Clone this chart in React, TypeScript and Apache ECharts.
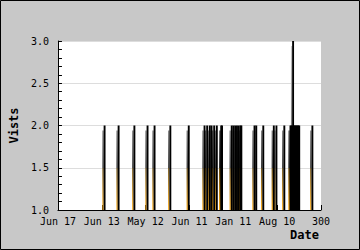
import React, { useEffect, useRef } from 'react';
import * as echarts from 'echarts';

const tickLabels = ['Jun 17', 'Jun 13', 'May 12', 'Jun 11', 'Jan 11', 'Aug 10', '300'];
const spikeIndex = [53, 69, 87, 102, 110, 128, 149, 167, 170, 173, 175, 178, 181, 186, 187, 198, 200, 202, 204, 206, 208, 209, 224, 226, 234, 246, 249, 258, 265, 266, 267, 268, 269, 270, 271, 272, 273, 274, 275, 290];
const spikeVisits = [2, 2, 2, 2, 2, 2, 2, 2, 2, 2, 2, 2, 2, 2, 2, 2, 2, 2, 2, 2, 2, 2, 2, 2, 2, 2, 2, 2, 2, 2, 2, 3, 2, 2, 2, 2, 2, 2, 2, 2];

export default function App() {
  const ref = useRef<HTMLDivElement>(null);
  useEffect(() => {
    document.body.style.margin = '0';
    const chart = echarts.init(ref.current!, null, { renderer: 'svg' });
    const mono = 'DejaVu Sans Mono';
    const stops = [
      { offset: 0, color: '#cccccc' },
      { offset: 0.5, color: '#7a7a7a' },
      { offset: 0.75, color: '#222222' },
      { offset: 0.75, color: '#5e3f00' },
      { offset: 1, color: '#ffa500' },
    ];
    const data = spikeIndex.map((x, i) => [x, spikeVisits[i]]);
    const renderFill = (params: any, api: any) => {
      const x = api.value(0);
      const v = api.value(1);
      const top = api.coord([x, v]);
      const base = api.coord([x, 1]);
      const yTop = api.coord([0, 3])[1];
      const grad = new echarts.graphic.LinearGradient(0, yTop, 0, base[1], stops, true);
      return {
        type: 'rect',
        shape: { x: top[0] - 2.0, y: top[1] + 5, width: 1.2, height: base[1] - top[1] - 5 },
        style: { fill: grad },
      };
    };
    const renderLine = (params: any, api: any) => {
      const x = api.value(0);
      const v = api.value(1);
      const top = api.coord([x, v]);
      const base = api.coord([x, 1]);
      return {
        type: 'rect',
        shape: { x: top[0] - 0.8, y: top[1], width: 1.9, height: base[1] - top[1] },
        style: { fill: '#000' },
      };
    };
    chart.setOption({
      animation: false,
      backgroundColor: '#c8c8c8',
      grid: { left: 41, top: 41, right: 39, bottom: 40, show: true, backgroundColor: '#ffffff', borderWidth: 0 },
      xAxis: {
        type: 'value',
        min: 0,
        max: 300,
        interval: 50,
        axisLine: { lineStyle: { color: '#000', width: 1 } },
        axisTick: { inside: true, length: 5, lineStyle: { color: '#000' } },
        axisLabel: {
          margin: 6,
          fontFamily: mono,
          fontSize: 10,
          color: '#000',
          formatter: (v: number) => tickLabels[Math.round(v / 50)],
        },
        splitLine: { show: false },
        name: 'Date',
        nameLocation: 'end',
        nameGap: 0,
        nameTextStyle: {
          fontFamily: mono,
          fontSize: 12,
          fontWeight: 'bold',
          color: '#000',
          align: 'right',
          verticalAlign: 'top',
          padding: [19, 2, 0, 0],
        },
      },
      yAxis: {
        type: 'value',
        min: 1,
        max: 3,
        interval: 0.5,
        axisLine: { show: true, lineStyle: { color: '#000' } },
        axisTick: { show: true, inside: true, length: 4, lineStyle: { color: '#000' } },
        minorTick: { show: true, splitNumber: 5, length: 4, lineStyle: { color: '#000' } },
        axisLabel: {
          margin: 9,
          fontFamily: mono,
          fontSize: 10,
          color: '#000',
          formatter: (v: number) => v.toFixed(1),
        },
        splitLine: { lineStyle: { color: '#dddddd' } },
        name: 'Vists',
        nameLocation: 'middle',
        nameGap: 29,
        nameRotate: 90,
        nameTextStyle: { fontFamily: mono, fontSize: 12, fontWeight: 'bold', color: '#000' },
      },
      series: [
        { type: 'custom', data, renderItem: renderFill, clip: true, z: 2 },
        { type: 'custom', data, renderItem: renderLine, clip: true, z: 3 },
      ],
      graphic: [
        {
          type: 'rect',
          shape: { x: 0.5, y: 0.5, width: 359, height: 249 },
          style: { fill: 'none', stroke: '#000', lineWidth: 1 },
          z: 100,
          silent: true,
        },
      ],
    });
    return () => chart.dispose();
  }, []);
  return <div ref={ref} style={{ width: 360, height: 250 }} />;
}
